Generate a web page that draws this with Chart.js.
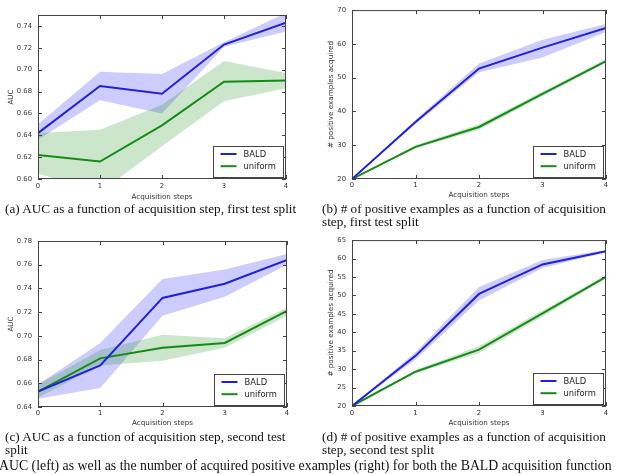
<!DOCTYPE html>
<html>
<head>
<meta charset="utf-8">
<script src="https://cdn.jsdelivr.net/npm/chart.js@4.4.0/dist/chart.umd.min.js"></script>
<style>
  html, body { margin: 0; padding: 0; background: #fff; }
  #page { position: relative; width: 618px; height: 474px; overflow: hidden; }
  canvas { position: absolute; }
  .cap { position: absolute; font-family: 'Liberation Serif', 'Times New Roman', serif; font-size: 13.2px;
         line-height: 12.8px; color: #111; white-space: nowrap; }
  .cap.main { font-size: 13.8px; }
</style>
</head>
<body>
<div id="page">
  <canvas id="chartA"></canvas>
  <canvas id="chartB"></canvas>
  <canvas id="chartC"></canvas>
  <canvas id="chartD"></canvas>
  <div class="cap" style="left:5px;top:203px">(a) AUC as a function of acquisition step, first test split</div>
  <div class="cap" style="left:322px;top:203px">(b) # of positive examples as a function of acquisition<br>step, first test split</div>
  <div class="cap" style="left:5px;top:431px">(c) AUC as a function of acquisition step, second test<br>split</div>
  <div class="cap" style="left:322px;top:431px">(d) # of positive examples as a function of acquisition<br>step, second test split</div>
  <div class="cap main" style="left:-1px;top:460px">AUC (left) as well as the number of acquired positive examples (right) for both the BALD acquisition function</div>
</div>
<script>
// ── Datos ──
const steps = [0, 1, 2, 3, 4];

// (a) AUC, first test split
const aBald   = [0.642, 0.685, 0.678, 0.723, 0.743];
const aBaldLo = [0.636, 0.672, 0.660, 0.721, 0.735];
const aBaldHi = [0.650, 0.698, 0.696, 0.725, 0.752];
const aUni    = [0.622, 0.616, 0.649, 0.689, 0.690];
const aUniLo  = [0.605, 0.588, 0.630, 0.671, 0.683];
const aUniHi  = [0.642, 0.645, 0.668, 0.708, 0.697];
const aTicks  = [0.60, 0.62, 0.64, 0.66, 0.68, 0.70, 0.72, 0.74];

// (b) positives, first test split
const bBald   = [20, 36.9, 52.7, 58.9, 64.7];
const bBaldLo = [20, 36.3, 51.6, 56.0, 63.5];
const bBaldHi = [20, 37.5, 54.2, 61.2, 65.9];
const bUni    = [20, 29.5, 35.4, 45.2, 54.9];
const bUniLo  = [20, 29.0, 34.6, 44.6, 54.4];
const bUniHi  = [20, 30.0, 36.2, 45.9, 55.4];
const bTicks  = [20, 30, 40, 50, 60, 70];

// (c) AUC, second test split
const cBald   = [0.653, 0.675, 0.732, 0.744, 0.764];
const cBaldLo = [0.647, 0.656, 0.717, 0.733, 0.760];
const cBaldHi = [0.659, 0.694, 0.748, 0.756, 0.769];
const cUni    = [0.653, 0.681, 0.690, 0.694, 0.721];
const cUniLo  = [0.648, 0.675, 0.679, 0.690, 0.717];
const cUniHi  = [0.659, 0.688, 0.701, 0.698, 0.724];
const cTicks  = [0.64, 0.66, 0.68, 0.70, 0.72, 0.74, 0.76, 0.78];

// (d) positives, second test split
const dBald   = [20, 33.6, 50.4, 58.4, 62.0];
const dBaldLo = [20, 32.6, 48.6, 57.4, 61.7];
const dBaldHi = [20, 34.6, 52.3, 59.6, 62.3];
const dUni    = [20, 29.3, 35.3, 45.1, 55.0];
const dUniLo  = [20, 28.9, 34.4, 44.3, 54.6];
const dUniHi  = [20, 29.7, 36.3, 45.9, 55.4];
const dTicks  = [20, 25, 30, 35, 40, 45, 50, 55, 60, 65];

// ── Estilos ──
const BLUE = '#2020dc', GREEN = '#168a16';
const BLUE_BAND = 'rgba(0,0,255,0.2)', GREEN_BAND = 'rgba(0,128,0,0.2)';
const INK = '#333', FRAME = '#444';
const tickFont  = { family: 'DejaVu Sans', size: 6.8 };
const titleFont = { family: 'DejaVu Sans', size: 7.2 };
const legendFont = '8.4px "DejaVu Sans"';

// box: [left, top, width, height], area: [left, top, right, bottom] (page coords)
const LAYOUT = {
  chartA: { box: [0, 0, 300, 203],   area: [38, 15, 286, 179],  yTitleX: 11.5,  xTickY: 186, xTitleY: 197 },
  chartB: { box: [300, 0, 318, 203], area: [352, 10, 606, 179], yTitleX: 331.5, xTickY: 185, xTitleY: 195.5 },
  chartC: { box: [0, 230, 300, 203], area: [38, 241, 287, 407], yTitleX: 11.5,  xTickY: 413, xTitleY: 423 },
  chartD: { box: [300, 230, 318, 203], area: [352, 236, 606, 406], yTitleX: 331, xTickY: 413, xTitleY: 423 }
};

const pts = ys => steps.map((s, i) => ({ x: s, y: ys[i] }));

function lineSet(label, ys, color) {
  return { label, data: pts(ys), borderColor: color, backgroundColor: color,
           borderWidth: 2, pointRadius: 0, fill: false, tension: 0 };
}
function bandSet(ys, color, fill) {
  return { label: '', data: pts(ys), borderColor: 'transparent', borderWidth: 0,
           backgroundColor: color, pointRadius: 0, fill, tension: 0 };
}

// ── Marco, ticks hacia dentro y leyenda ──
const framePlugin = {
  id: 'frame',
  afterDraw(chart) {
    const { ctx, chartArea: a, scales: { x, y } } = chart;
    ctx.save();
    ctx.strokeStyle = FRAME;
    ctx.lineWidth = 1;
    ctx.strokeRect(a.left + 0.5, a.top + 0.5, a.right - a.left - 1, a.bottom - a.top - 1);
    const tl = 4;
    ctx.beginPath();
    x.ticks.forEach(t => {
      const px = Math.round(x.getPixelForValue(t.value)) + 0.5;
      ctx.moveTo(px, a.bottom); ctx.lineTo(px, a.bottom - tl);
      ctx.moveTo(px, a.top);    ctx.lineTo(px, a.top + tl);
    });
    y.ticks.forEach(t => {
      const py = Math.round(y.getPixelForValue(t.value)) + 0.5;
      ctx.moveTo(a.left, py);  ctx.lineTo(a.left + tl, py);
      ctx.moveTo(a.right, py); ctx.lineTo(a.right - tl, py);
    });
    ctx.stroke();

    // leyenda
    const items = chart.data.datasets.filter(d => d.label);
    const bw = 70, bh = 31;
    const bx = Math.round(a.right - 3 - bw) + 0.5, by = Math.round(a.bottom - 2.5 - bh) + 0.5;
    ctx.fillStyle = '#fff';
    ctx.fillRect(bx, by, bw, bh);
    ctx.strokeStyle = FRAME;
    ctx.strokeRect(bx, by, bw, bh);
    ctx.font = legendFont;
    ctx.textBaseline = 'middle';
    items.forEach((d, i) => {
      const ly = by + 7.5 + i * 12.2;
      ctx.strokeStyle = d.borderColor;
      ctx.lineWidth = 2;
      ctx.beginPath();
      ctx.moveTo(bx + 7, ly); ctx.lineTo(bx + 23, ly);
      ctx.stroke();
      ctx.fillStyle = '#222';
      ctx.fillText(d.label, bx + 30, ly + 0.5);
    });
    ctx.restore();
  }
};

function makePanel(id, series, yTicks, yMin, yMax, yTitle, fmt) {
  const L = LAYOUT[id];
  const [bl, bt, bw, bh] = L.box;
  const [al, at, ar, ab] = L.area;
  const cv = document.getElementById(id);
  cv.width = bw; cv.height = bh;
  cv.style.left = bl + 'px'; cv.style.top = bt + 'px';

  const [bald, baldLo, baldHi, uni, uniLo, uniHi] = series;
  return new Chart(cv, {
    type: 'line',
    data: {
      datasets: [
        lineSet('BALD', bald, BLUE),
        lineSet('uniform', uni, GREEN),
        bandSet(uniHi, GREEN_BAND, '+1'),
        bandSet(uniLo, GREEN_BAND, false),
        bandSet(baldHi, BLUE_BAND, '+1'),
        bandSet(baldLo, BLUE_BAND, false)
      ]
    },
    options: {
      responsive: false,
      animation: false,
      events: [],
      layout: { padding: { left: 0, top: at - bt, right: bl + bw - ar, bottom: 0 } },
      plugins: {
        legend: { display: false },
        tooltip: { enabled: false },
        filler: { drawTime: 'beforeDatasetsDraw' }
      },
      scales: {
        x: {
          type: 'linear', min: 0, max: 4,
          afterBuildTicks: s => { s.ticks = steps.map(v => ({ value: v })); },
          afterFit: s => { s.height = bt + bh - ab; },
          grid: { display: false, drawTicks: false },
          border: { display: false },
          ticks: { font: tickFont, color: INK, padding: L.xTickY - ab - tickFont.size * 0.6, maxRotation: 0 },
          title: { display: true, text: 'Acquisition steps', font: titleFont, color: INK,
                   padding: { top: 0, bottom: bt + bh - L.xTitleY - titleFont.size * 0.6 } }
        },
        y: {
          type: 'linear', min: yMin, max: yMax,
          afterBuildTicks: s => { s.ticks = yTicks.map(v => ({ value: v })); },
          afterFit: s => { s.width = al - bl; },
          grid: { display: false, drawTicks: false },
          border: { display: false },
          ticks: { font: tickFont, color: INK, padding: 6, callback: fmt },
          title: { display: true, text: yTitle, font: titleFont, color: INK,
                   padding: { top: L.yTitleX - bl - titleFont.size * 0.6, bottom: 0 } }
        }
      }
    },
    plugins: [framePlugin]
  });
}

const fmtAuc = v => Number(v).toFixed(2);
const fmtInt = v => String(Math.round(v));

makePanel('chartA', [aBald, aBaldLo, aBaldHi, aUni, aUniLo, aUniHi], aTicks, 0.60, 0.75, 'AUC', fmtAuc);
makePanel('chartB', [bBald, bBaldLo, bBaldHi, bUni, bUniLo, bUniHi], bTicks, 20, 70, '# positive examples acquired', fmtInt);
makePanel('chartC', [cBald, cBaldLo, cBaldHi, cUni, cUniLo, cUniHi], cTicks, 0.64, 0.78, 'AUC', fmtAuc);
makePanel('chartD', [dBald, dBaldLo, dBaldHi, dUni, dUniLo, dUniHi], dTicks, 20, 65, '# positive examples acquired', fmtInt);
</script>
</body>
</html>
